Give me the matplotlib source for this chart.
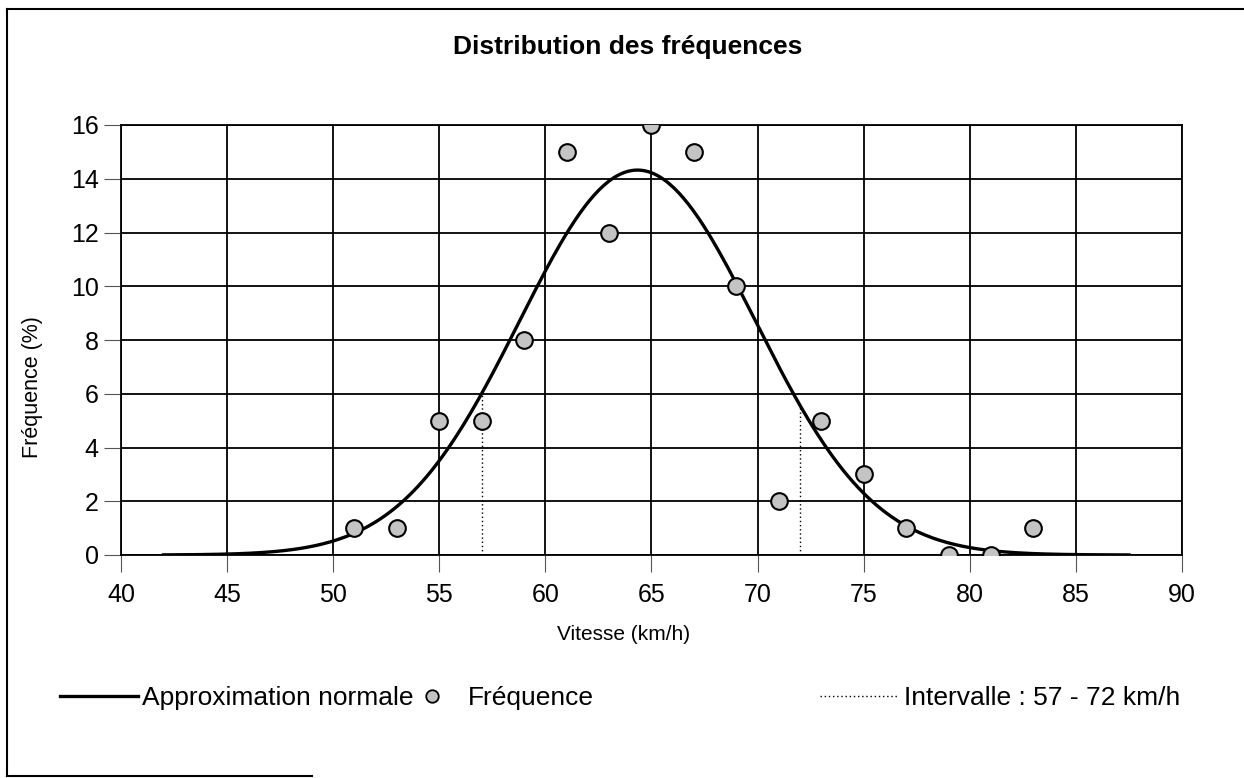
import matplotlib
matplotlib.use("Agg")
import matplotlib.pyplot as plt
import numpy as np
from matplotlib.lines import Line2D

# vitesses mesurees (km/h) et frequences (%)
vitesse = [51, 53, 55, 57, 59, 61, 63, 65, 67, 69, 71, 73, 75, 77, 79, 81, 83]
frequence = [1, 1, 5, 5, 8, 15, 12, 16, 15, 10, 2, 5, 3, 1, 0, 0, 1]
# bornes de l'intervalle
intervalle = [57, 72]
largeur_classe = 2

# approximation normale a partir des donnees
v = np.array(vitesse, dtype=float)
f = np.array(frequence, dtype=float)
moy = np.sum(v * f) / np.sum(f)
ecart = np.sqrt(np.sum(f * (v - moy) ** 2) / (np.sum(f) - 1))


def normale(x):
    return largeur_classe * np.sum(f) / (ecart * np.sqrt(2 * np.pi)) * np.exp(-0.5 * ((x - moy) / ecart) ** 2)


xc = np.linspace(42, 87.5, 400)
yc = normale(xc)

plt.rcParams["font.family"] = ["Liberation Sans", "DejaVu Sans"]

fig = plt.figure(figsize=(12.44, 7.78), dpi=100)
ax = fig.add_axes([121 / 1244, 1 - 555 / 778, (1182 - 121) / 1244, (555 - 125) / 778])

ax.plot(xc, yc, color="black", lw=2.4, zorder=3)
for b in intervalle:
    ax.plot([b, b], [0, normale(b)], color="black", lw=1.0, ls=(0, (1, 2)), zorder=2)
ax.plot(vitesse, frequence, ls="none", marker="o", ms=12, mfc="#c4c4c4",
        mec="black", mew=1.5, zorder=4)

ax.set_xlim(40, 90)
ax.set_ylim(0, 16)
ax.set_xticks(np.arange(40, 91, 5))
ax.set_yticks(np.arange(0, 17, 2))
ax.grid(True, color="black", lw=1.3)
ax.set_axisbelow(True)
for s in ax.spines.values():
    s.set_linewidth(1.3)
ax.tick_params(axis="both", labelsize=18, length=12, width=0.8, color="#555555")
ax.tick_params(axis="x", pad=8)
ax.tick_params(axis="y", pad=4)

ax.set_xlabel("Vitesse (km/h)", fontsize=15)
ax.xaxis.set_label_coords(0.474, -0.163)
ax.set_ylabel("Fréquence (%)", fontsize=15.5)
ax.yaxis.set_label_coords(-0.0735, 0.39)
fig.text(628 / 1244, 1 - 47 / 778, "Distribution des fréquences",
         fontsize=19, fontweight="bold", ha="center", va="center")

# legendes
y_leg = 1 - 698 / 778
h1 = Line2D([], [], color="black", lw=2.4)
h2 = Line2D([], [], ls="none", marker="o", ms=9, mfc="#c4c4c4", mec="black", mew=1.3)
h3 = Line2D([], [], color="black", lw=1.0, ls=(0, (1, 2)))
opts = dict(frameon=False, fontsize=19, borderpad=0, borderaxespad=0, loc="center left")
fig.legend([h1], ["Approximation normale"], bbox_to_anchor=(60 / 1244, y_leg),
           handlelength=2.95, handletextpad=0.15, **opts)
fig.legend([h2], ["Fréquence"], bbox_to_anchor=(408 / 1244, y_leg),
           handlelength=1.8, handletextpad=0.47, **opts)
fig.legend([h3], ["Intervalle : 57 - 72 km/h"], bbox_to_anchor=(820 / 1244, y_leg),
           handlelength=3.0, handletextpad=0.18, **opts)

# cadre
for xs, ys in [([7, 7], [9, 776]), ([7, 1244], [9, 9]), ([7, 312], [776, 776])]:
    fig.add_artist(Line2D([x / 1244 for x in xs], [1 - y / 778 for y in ys],
                          color="black", lw=1.5))

fig.savefig("out.png", dpi=100)
